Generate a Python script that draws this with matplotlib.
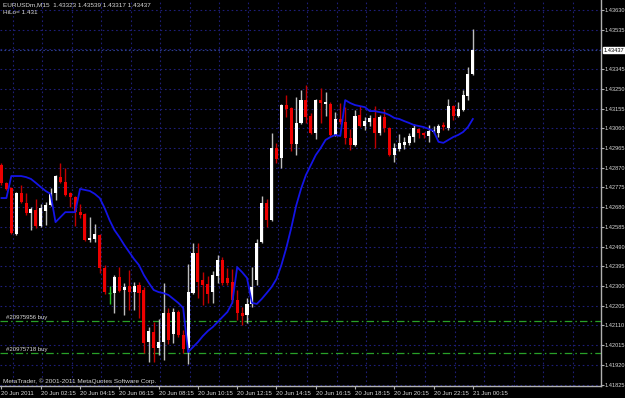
import matplotlib
matplotlib.use('Agg')
import matplotlib.pyplot as plt
import numpy as np

# ---------------- data (EURUSDm, M15) ----------------
opens = [1.42883, 1.42797, 1.42772, 1.42551, 1.42749, 1.42701, 1.42652, 1.42666, 1.42589, 1.42661,
         1.42691, 1.42749, 1.42825, 1.42801, 1.42749, 1.42729, 1.42656, 1.42647, 1.42522, 1.42527,
         1.42546, 1.42386, 1.42266, 1.42266, 1.42343, 1.42281, 1.42300, 1.42271, 1.42305, 1.42281,
         1.42030, 1.42078, 1.42001, 1.42030, 1.42171, 1.42069, 1.42175, 1.42064, 1.42001, 1.42266,
         1.42460, 1.42329, 1.42310, 1.42271, 1.42348, 1.42425, 1.42339, 1.42319, 1.42233, 1.42171,
         1.42161, 1.42214, 1.42329, 1.42512, 1.42701, 1.42618, 1.42965, 1.42916, 1.43172, 1.43158,
         1.42985, 1.43086, 1.43196, 1.43119, 1.43038, 1.43196, 1.43177, 1.43177, 1.43028, 1.43105,
         1.43090, 1.43014, 1.42980, 1.43124, 1.43071, 1.43090, 1.43110, 1.43038, 1.43114, 1.43061,
         1.42931, 1.42960, 1.42980, 1.42990, 1.43019, 1.43057, 1.43038, 1.43023, 1.43042, 1.43038,
         1.43076, 1.43061, 1.43167, 1.43119, 1.43148, 1.43215, 1.43323]
highs = [1.42893, 1.42801, 1.42777, 1.42753, 1.42787, 1.42749, 1.42681, 1.42720, 1.42696, 1.42705,
         1.42772, 1.42835, 1.42893, 1.42869, 1.42753, 1.42734, 1.42696, 1.42652, 1.42632, 1.42599,
         1.42551, 1.42401, 1.42300, 1.42353, 1.42391, 1.42315, 1.42377, 1.42319, 1.42319, 1.42295,
         1.42102, 1.42126, 1.42141, 1.42315, 1.42195, 1.42195, 1.42185, 1.42088, 1.42406, 1.42507,
         1.42507, 1.42367, 1.42348, 1.42372, 1.42450, 1.42440, 1.42386, 1.42382, 1.42281, 1.42199,
         1.42242, 1.42391, 1.42527, 1.42734, 1.42720, 1.43038, 1.42990, 1.43177, 1.43220, 1.43162,
         1.43210, 1.43244, 1.43268, 1.43134, 1.43201, 1.43254, 1.43235, 1.43186, 1.43138, 1.43182,
         1.43162, 1.43057, 1.43148, 1.43167, 1.43114, 1.43124, 1.43167, 1.43124, 1.43153, 1.43066,
         1.42990, 1.43033, 1.43019, 1.43038, 1.43081, 1.43061, 1.43042, 1.43076, 1.43071, 1.43081,
         1.43090, 1.43201, 1.43172, 1.43186, 1.43244, 1.43355, 1.43539]
lows = [1.42787, 1.42763, 1.42551, 1.42546, 1.42701, 1.42642, 1.42570, 1.42579, 1.42584, 1.42594,
        1.42686, 1.42715, 1.42797, 1.42734, 1.42681, 1.42589, 1.42627, 1.42517, 1.42512, 1.42512,
        1.42363, 1.42262, 1.42214, 1.42171, 1.42271, 1.42161, 1.42185, 1.42185, 1.42146, 1.41978,
        1.41934, 1.41934, 1.41968, 1.41944, 1.42021, 1.42026, 1.42054, 1.41978, 1.41925, 1.42262,
        1.42242, 1.42209, 1.42219, 1.42219, 1.42315, 1.42305, 1.42305, 1.42219, 1.42136, 1.42112,
        1.42122, 1.42199, 1.42305, 1.42507, 1.42584, 1.42613, 1.42893, 1.42869, 1.43114, 1.42950,
        1.42931, 1.43081, 1.43086, 1.43033, 1.43009, 1.43086, 1.43119, 1.43023, 1.43023, 1.43081,
        1.42985, 1.42955, 1.42975, 1.43066, 1.43052, 1.43071, 1.42965, 1.43028, 1.43042, 1.42926,
        1.42897, 1.42950, 1.42960, 1.42980, 1.42995, 1.43014, 1.43014, 1.42995, 1.43038, 1.43019,
        1.43052, 1.43052, 1.43100, 1.43114, 1.43143, 1.43196, 1.43317]
closes = [1.42797, 1.42768, 1.42556, 1.42749, 1.42705, 1.42652, 1.42672, 1.42589, 1.42676, 1.42691,
          1.42749, 1.42830, 1.42801, 1.42739, 1.42729, 1.42656, 1.42642, 1.42522, 1.42531, 1.42551,
          1.42386, 1.42271, 1.42266, 1.42343, 1.42276, 1.42295, 1.42271, 1.42300, 1.42266, 1.42026,
          1.42083, 1.42001, 1.42030, 1.42171, 1.42040, 1.42175, 1.42064, 1.41997, 1.42271, 1.42460,
          1.42319, 1.42305, 1.42262, 1.42353, 1.42425, 1.42315, 1.42315, 1.42233, 1.42171, 1.42156,
          1.42214, 1.42295, 1.42507, 1.42701, 1.42618, 1.42965, 1.42912, 1.43172, 1.43153, 1.42985,
          1.43086, 1.43196, 1.43114, 1.43038, 1.43196, 1.43182, 1.43186, 1.43028, 1.43105, 1.43090,
          1.43014, 1.42980, 1.43119, 1.43071, 1.43095, 1.43110, 1.43038, 1.43114, 1.43061, 1.42931,
          1.42965, 1.42990, 1.42995, 1.43023, 1.43061, 1.43038, 1.43028, 1.43047, 1.43052, 1.43071,
          1.43066, 1.43167, 1.43119, 1.43153, 1.43220, 1.43322, 1.43437]
hilo = [1.42724, 1.42724, 1.42830, 1.42830, 1.42830, 1.42825, 1.42816, 1.42797, 1.42777, 1.42758,
        1.42744, 1.42608, 1.42632, 1.42656, 1.42656, 1.42656, 1.42768, 1.42763, 1.42758, 1.42744,
        1.42724, 1.42676, 1.42618, 1.42570, 1.42536, 1.42498, 1.42464, 1.42430, 1.42401, 1.42353,
        1.42315, 1.42281, 1.42271, 1.42266, 1.42257, 1.42238, 1.42219, 1.42195, 1.41982, 1.42006,
        1.42030, 1.42059, 1.42083, 1.42102, 1.42126, 1.42151, 1.42175, 1.42219, 1.42391, 1.42367,
        1.42339, 1.42219, 1.42214, 1.42238, 1.42266, 1.42295, 1.42334, 1.42401, 1.42483, 1.42579,
        1.42686, 1.42768, 1.42835, 1.42883, 1.42931, 1.42965, 1.43004, 1.43018, 1.43028, 1.43023,
        1.43196, 1.43182, 1.43172, 1.43167, 1.43162, 1.43143, 1.43143, 1.43138, 1.43134, 1.43124,
        1.43110, 1.43105, 1.43095, 1.43086, 1.43076, 1.43071, 1.43066, 1.43057, 1.43047, 1.42995,
        1.42990, 1.43004, 1.43018, 1.43028, 1.43042, 1.43066, 1.43105]

time_labels = ["20 Jun 2011", "20 Jun 02:15", "20 Jun 04:15", "20 Jun 06:15", "20 Jun 08:15",
               "20 Jun 10:15", "20 Jun 12:15", "20 Jun 14:15", "20 Jun 16:15", "20 Jun 18:15",
               "20 Jun 20:15", "20 Jun 22:15", "21 Jun 00:15"]
bars_per_label = 8
price_levels = [1.41825, 1.41920, 1.42015, 1.42110, 1.42205, 1.42300, 1.42395, 1.42490, 1.42585,
                1.42680, 1.42775, 1.42870, 1.42965, 1.43060, 1.43155, 1.43250, 1.43345, 1.43440,
                1.43535, 1.43630]
current_price = 1.43437
orders = [("#20975956 buy", 1.42131), ("#20975718 buy", 1.41978)]
title_text = "EURUSDm,M15  1.43323 1.43539 1.43317 1.43437"
hilo_text = "HiLo= 1.431"
copyright_text = "MetaTrader, \u00a9 2001-2011 MetaQuotes Software Corp."

# ---------------- figure ----------------
plt.rcParams['font.family'] = ['Liberation Sans', 'DejaVu Sans']
FS = 4.3
FSY = 4.05
TXT = '#d8d8d8'
GRID = '#1e1e78'

fig = plt.figure(figsize=(6.25, 3.98), dpi=100, facecolor='black')
ax = fig.add_axes([0, 12 / 398, 601 / 625, 386 / 398], facecolor='black')

o = np.array(opens); h = np.array(highs); l = np.array(lows); c = np.array(closes)
x = np.arange(len(o))
px_per_bar = 4.91
ax.set_xlim(-1.5 / px_per_bar, (601 - 1.5) / px_per_bar)
ax.set_ylim(1.418185, 1.436782)
price_per_px = (1.436782 - 1.418185) / 386

# grid
for lv in price_levels:
    ax.axhline(lv, color=GRID, lw=0.8, ls=(0, (1.5, 2.5)), zorder=1)
for gx in np.arange(8.3 - 6, 125, 6):
    ax.axvline(gx, color=GRID, lw=0.8, ls=(0, (1.5, 2.5)), zorder=1)

# bid line
ax.axhline(current_price, color='#2c3c8c', lw=0.8, ls=(0, (1.5, 2.0)), zorder=1)

# order lines
for name, lv in orders:
    ax.axhline(lv, color='#28a028', lw=0.9, ls=(0, (6, 2.5, 1.2, 2.5)), zorder=2)
    ax.text(5 / px_per_bar, lv + 1.2 * price_per_px, name, color=TXT, fontsize=FS,
            va='bottom', ha='left', zorder=6)

# candles
up = c > o
down = c < o
doji = c == o
wick_cols = np.where(up, '#bdbdbd', np.where(down, '#c00000', '#20c020'))
ax.vlines(x, l, h, colors=wick_cols, lw=1.0, zorder=3)
body_h = np.maximum(np.abs(c - o), 1.2 * price_per_px)
body_b = np.minimum(o, c)
ax.bar(x[up], body_h[up], bottom=body_b[up], width=0.62, color='white', linewidth=0, zorder=4)
ax.bar(x[down], body_h[down], bottom=body_b[down], width=0.62, color='#ee0000', linewidth=0, zorder=4)
ax.hlines(o[doji], x[doji] - 0.35, x[doji] + 0.35, colors='#20c020', lw=1.0, zorder=4)

# HiLo indicator
ax.plot(x, hilo, color='#1414e6', lw=1.3, zorder=5)

# axes styling
for s in ['left', 'top']:
    ax.spines[s].set_visible(False)
for s in ['right', 'bottom']:
    ax.spines[s].set_color('#b0b0b0')
    ax.spines[s].set_linewidth(1.0)

ax.yaxis.tick_right()
shown_levels = [lv for lv in price_levels if abs(lv - current_price) > 0.0002]
ax.set_yticks(shown_levels)
ax.set_yticklabels(['%.5f' % v for v in shown_levels])
ax.tick_params(axis='y', colors='#b0b0b0', labelcolor=TXT, labelsize=FSY, length=2.0, pad=0.3)

ax.set_xticks(np.arange(len(time_labels)) * bars_per_label)
ax.set_xticklabels(time_labels)
ax.tick_params(axis='x', colors='#b0b0b0', labelcolor=TXT, labelsize=FS, length=2.5, pad=0.8)
for t in ax.get_xticklabels():
    t.set_horizontalalignment('left')

# current price tag
ax.annotate('%.5f' % current_price, xy=(1.0, current_price), xycoords=('axes fraction', 'data'),
            xytext=(1.8, 0), textcoords='offset points', fontsize=FSY, color='black',
            va='center', ha='left', annotation_clip=False, zorder=10,
            bbox=dict(boxstyle='square,pad=0.1', fc='white', ec='white'))

# texts
fig.text(3 / 625, 1 - 5 / 398, title_text, color=TXT, fontsize=FS + 0.3, va='center', ha='left')
fig.text(3 / 625, 1 - 13 / 398, hilo_text, color=TXT, fontsize=FS + 0.3, va='center', ha='left')
fig.text(3 / 625, 1 - 381 / 398, copyright_text, color=TXT, fontsize=FS + 0.3, va='center', ha='left')

fig.savefig('out.png', dpi=100, facecolor='black')
